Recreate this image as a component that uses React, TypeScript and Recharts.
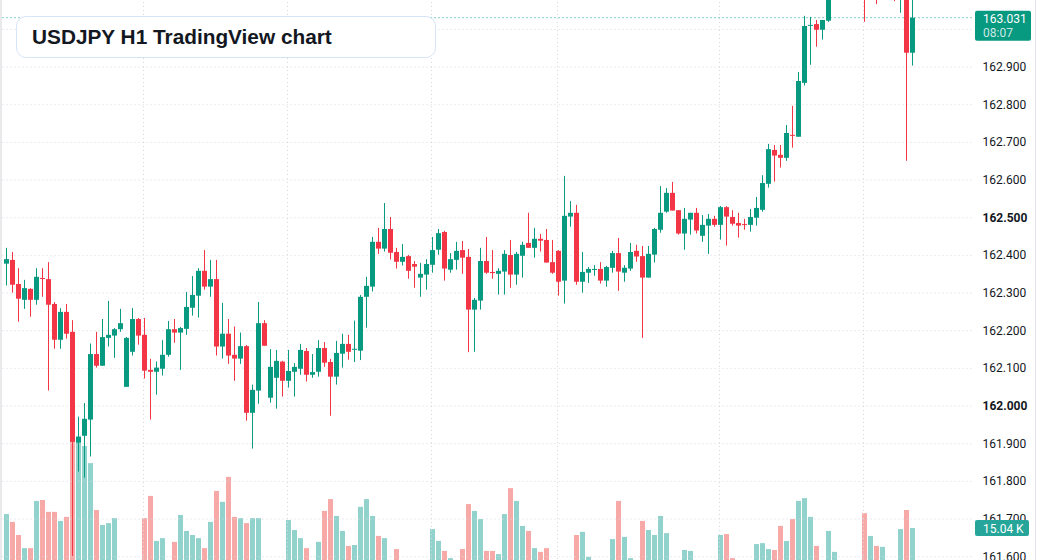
import React from "react";
import { Bar, ComposedChart, ReferenceLine, XAxis, YAxis } from "recharts";

// USDJPY H1 candles (last 152 bars)
const opens = [
  162.378, 162.388, 162.324, 162.282, 162.311, 162.282, 162.340, 162.337, 162.271, 162.176,
  162.250, 162.197, 161.903, 161.921, 161.964, 162.138, 162.107, 162.181, 162.187, 162.204,
  162.051, 162.144, 162.231, 162.189, 162.096, 162.091, 162.099, 162.136, 162.204, 162.195,
  162.205, 162.261, 162.293, 162.359, 162.317, 162.337, 162.158, 162.192, 162.136, 162.126,
  162.159, 161.982, 162.041, 162.220, 162.022, 162.075, 162.118, 162.067, 162.091, 162.099,
  162.146, 162.083, 162.091, 162.154, 162.117, 162.078, 162.139, 162.165, 162.150, 162.147,
  162.290, 162.317, 162.436, 162.418, 162.470, 162.409, 162.383, 162.398, 162.377, 162.341,
  162.349, 162.375, 162.415, 162.462, 162.362, 162.388, 162.414, 162.396, 162.256, 162.280,
  162.385, 162.356, 162.351, 162.357, 162.401, 162.349, 162.399, 162.433, 162.420, 162.444,
  162.441, 162.382, 162.412, 162.333, 162.503, 162.513, 162.330, 162.354, 162.362, 162.364,
  162.333, 162.367, 162.406, 162.354, 162.365, 162.412, 162.398, 162.341, 162.402, 162.468,
  162.516, 162.566, 162.520, 162.458, 162.495, 162.513, 162.452, 162.479, 162.497, 162.481,
  162.528, 162.502, 162.486, 162.483, 162.481, 162.500, 162.521, 162.590, 162.680, 162.667,
  162.659, 162.720, 162.715, 162.858, 163.010, 163.014, 162.999, 163.023, 163.091, 163.120,
  163.145, 163.125, 163.160, 163.140, 163.095, 163.125, 163.100, 163.130, 163.140, 163.105,
  163.130, 162.938,
];
const highs = [
  162.420, 162.409, 162.366, 162.335, 162.313, 162.366, 162.366, 162.382, 162.276, 162.260,
  162.271, 162.228, 161.972, 162.008, 162.166, 162.197, 162.231, 162.279, 162.207, 162.258,
  162.183, 162.260, 162.234, 162.234, 162.125, 162.118, 162.175, 162.226, 162.231, 162.210,
  162.303, 162.345, 162.366, 162.414, 162.388, 162.388, 162.274, 162.231, 162.211, 162.195,
  162.162, 162.057, 162.276, 162.228, 162.151, 162.149, 162.120, 162.149, 162.114, 162.165,
  162.154, 162.138, 162.175, 162.170, 162.125, 162.173, 162.192, 162.189, 162.227, 162.295,
  162.343, 162.449, 162.473, 162.539, 162.502, 162.420, 162.430, 162.401, 162.385, 162.380,
  162.390, 162.449, 162.470, 162.465, 162.406, 162.436, 162.438, 162.417, 162.287, 162.420,
  162.449, 162.414, 162.366, 162.414, 162.441, 162.409, 162.436, 162.513, 162.473, 162.457,
  162.470, 162.441, 162.414, 162.611, 162.544, 162.534, 162.409, 162.369, 162.374, 162.382,
  162.372, 162.412, 162.446, 162.374, 162.433, 162.428, 162.425, 162.425, 162.473, 162.584,
  162.579, 162.595, 162.520, 162.526, 162.513, 162.526, 162.507, 162.510, 162.505, 162.531,
  162.531, 162.520, 162.513, 162.497, 162.523, 162.555, 162.613, 162.696, 162.693, 162.693,
  162.746, 162.797, 162.887, 163.036, 163.033, 163.025, 163.025, 163.100, 163.135, 163.160,
  163.170, 163.175, 163.180, 163.155, 163.140, 163.150, 163.145, 163.150, 163.160, 163.150,
  163.150, 163.090,
];
const lows = [
  162.320, 162.301, 162.224, 162.258, 162.237, 162.269, 162.290, 162.041, 162.152, 162.152,
  162.179, 161.602, 161.826, 161.810, 161.866, 162.102, 162.107, 162.158, 162.128, 162.197,
  162.051, 162.134, 162.163, 162.073, 161.964, 162.030, 162.081, 162.131, 162.168, 162.096,
  162.189, 162.240, 162.235, 162.309, 162.290, 162.134, 162.126, 162.112, 162.067, 162.112,
  161.961, 161.887, 162.006, 162.160, 162.009, 161.993, 162.025, 162.049, 162.025, 162.083,
  162.065, 162.075, 162.078, 162.104, 161.974, 162.057, 162.102, 162.123, 162.117, 162.122,
  162.208, 162.304, 162.404, 162.410, 162.389, 162.365, 162.373, 162.338, 162.314, 162.290,
  162.309, 162.354, 162.402, 162.333, 162.354, 162.362, 162.351, 162.143, 162.144, 162.256,
  162.351, 162.338, 162.296, 162.296, 162.314, 162.322, 162.341, 162.420, 162.394, 162.410,
  162.381, 162.351, 162.293, 162.272, 162.476, 162.322, 162.301, 162.327, 162.346, 162.325,
  162.317, 162.354, 162.306, 162.330, 162.359, 162.383, 162.181, 162.341, 162.381, 162.460,
  162.513, 162.519, 162.455, 162.415, 162.455, 162.458, 162.436, 162.404, 162.476, 162.442,
  162.426, 162.479, 162.447, 162.468, 162.463, 162.479, 162.516, 162.580, 162.596, 162.633,
  162.651, 162.686, 162.715, 162.851, 162.906, 162.954, 162.973, 163.020, 163.080, 163.105,
  163.110, 163.115, 163.130, 163.020, 163.085, 163.067, 163.090, 163.095, 163.075, 163.044,
  162.651, 162.904,
];
const closes = [
  162.390, 162.322, 162.285, 162.313, 162.282, 162.343, 162.338, 162.269, 162.176, 162.250,
  162.192, 161.905, 161.919, 161.966, 162.138, 162.107, 162.183, 162.189, 162.204, 162.220,
  162.181, 162.231, 162.187, 162.094, 162.091, 162.102, 162.136, 162.204, 162.195, 162.207,
  162.263, 162.295, 162.359, 162.317, 162.337, 162.158, 162.192, 162.134, 162.126, 162.159,
  161.982, 162.043, 162.220, 162.160, 162.104, 162.120, 162.067, 162.093, 162.104, 162.149,
  162.083, 162.090, 162.154, 162.115, 162.078, 162.141, 162.165, 162.144, 162.152, 162.290,
  162.319, 162.436, 162.418, 162.470, 162.407, 162.383, 162.396, 162.359, 162.370, 162.351,
  162.377, 162.414, 162.459, 162.365, 162.390, 162.412, 162.394, 162.256, 162.282, 162.385,
  162.354, 162.353, 162.359, 162.404, 162.349, 162.404, 162.428, 162.420, 162.444, 162.439,
  162.381, 162.354, 162.330, 162.505, 162.513, 162.330, 162.356, 162.364, 162.364, 162.333,
  162.369, 162.406, 162.357, 162.367, 162.409, 162.397, 162.341, 162.404, 162.470, 162.513,
  162.566, 162.519, 162.458, 162.497, 162.513, 162.466, 162.481, 162.497, 162.481, 162.528,
  162.503, 162.484, 162.479, 162.481, 162.502, 162.526, 162.592, 162.682, 162.665, 162.659,
  162.725, 162.718, 162.863, 163.009, 163.012, 162.999, 163.025, 163.091, 163.120, 163.145,
  163.125, 163.160, 163.140, 163.095, 163.125, 163.100, 163.130, 163.140, 163.105, 163.130,
  162.938, 163.031,
];
// volume in thousands
const volumes = [
  19.5, 17.0, 12.8, 8.6, 8.6, 23.7, 24.0, 20.2, 20.2, 17.3,
  18.6, 45.8, 43.8, 41.3, 35.8, 20.8, 16.0, 16.6, 18.2, 3.5,
  4.2, 3.8, 2.9, 18.2, 25.3, 10.9, 11.8, 3.6, 10.6, 19.2,
  14.1, 12.8, 11.8, 8.6, 17.0, 26.9, 23.4, 31.4, 18.6, 18.2,
  16.6, 18.2, 18.2, 4.1, 3.2, 4.4, 2.7, 17.6, 14.4, 11.8,
  8.6, 3.9, 10.6, 20.5, 24.3, 18.9, 14.1, 9.3, 9.6, 21.8,
  24.3, 18.9, 12.5, 11.8, 4.3, 8.3, 3.1, 4.0, 2.6, 3.7,
  4.5, 14.7, 10.9, 7.7, 5.4, 3.3, 8.3, 22.7, 20.5, 17.9,
  7.7, 7.7, 6.7, 19.5, 27.8, 23.7, 15.7, 14.1, 8.6, 7.4,
  8.6, 3.9, 4.6, 3.4, 2.8, 12.8, 13.8, 5.8, 3.0, 4.1,
  3.5, 11.5, 23.7, 12.2, 5.4, 3.8, 17.3, 14.4, 12.8, 18.9,
  13.4, 4.2, 3.6, 8.0, 7.7, 3.1, 4.4, 3.9, 2.8, 12.8,
  13.1, 5.4, 4.0, 2.5, 4.3, 9.9, 10.2, 8.3, 8.0, 15.7,
  10.9, 17.9, 23.7, 24.6, 18.6, 9.3, 4.5, 14.1, 7.4, 3.7,
  4.2, 3.2, 4.6, 19.8, 12.5, 9.3, 9.0, 3.4, 4.0, 14.7,
  20.8, 15.04,
];

const priceTicks = [161.6, 161.7, 161.8, 161.9, 162.0, 162.1, 162.2, 162.3, 162.4, 162.5, 162.6, 162.7, 162.8, 162.9];
const gridPrices = [...priceTicks, 163.0];
const boldTicks = [162.0, 162.5];
const timeGridBars = [23, 47, 71, 92, 119, 143];
const countdown = "08:07";
const rightPadBars = 10;

const UP = "#089981";
const DOWN = "#f23645";
const UP_VOL = "rgba(38,166,154,0.5)";
const DOWN_VOL = "rgba(239,83,80,0.5)";
const GRID = "#d4d7de";
const AXIS_FONT = "Roboto, 'Liberation Sans', Arial, sans-serif";

const W = 1037;
const H = 560;
const CH = 575; // chart taller than the frame so the volume base sits below the crop
const PRICE_DOMAIN: [number, number] = [161.5514, 163.078];
const VOL_DOMAIN: [number, number] = [0, 184];

const rows = Array.from({ length: opens.length + rightPadBars }, (_, i) =>
  i < opens.length
    ? { i, o: opens[i], h: highs[i], l: lows[i], c: closes[i], v: volumes[i] }
    : { i, o: null, h: null, l: null, c: null, v: null }
);

const snap = (x: number, width: number) => Math.round(x + width / 2 - 0.5) + 0.5;

function Candle(props: any) {
  const { x, y, width, height, payload } = props;
  if (!payload || payload.o == null || y == null) return null;
  const top = Math.min(y, y + height);
  const bot = Math.max(y, y + height);
  const k = (bot - top) / (payload.h - payload.l || 1);
  const yo = top + (payload.h - payload.o) * k;
  const yc = top + (payload.h - payload.c) * k;
  const col = payload.c >= payload.o ? UP : DOWN;
  const cx = snap(x, width);
  return (
    <g>
      <line x1={cx} x2={cx} y1={top} y2={bot} stroke={col} strokeWidth={1} />
      <rect x={cx - 2.5} y={Math.min(yo, yc)} width={5} height={Math.max(1, Math.abs(yo - yc))} fill={col} />
    </g>
  );
}

function VolBar(props: any) {
  const { x, y, width, height, payload } = props;
  if (!payload || payload.v == null || y == null) return null;
  const cx = snap(x, width);
  return (
    <rect
      x={cx - 2.5}
      y={Math.min(y, y + height)}
      width={5}
      height={Math.abs(height)}
      fill={payload.c >= payload.o ? UP_VOL : DOWN_VOL}
    />
  );
}

function PriceTick(props: any) {
  const { x, y, payload } = props;
  const v = payload.value as number;
  return (
    <text
      x={x}
      y={y}
      dy={4}
      textAnchor="start"
      fontSize={12}
      fontFamily={AXIS_FONT}
      fontWeight={boldTicks.includes(v) ? 700 : 400}
      fill="#131722"
    >
      {v.toFixed(3)}
    </text>
  );
}

function PriceTag(props: any) {
  const { x, y, width } = props.viewBox;
  const left = x + width + 0.5;
  const last = closes[closes.length - 1];
  return (
    <g fontFamily={AXIS_FONT} fontSize={12}>
      <rect x={left} y={y - 7} width={56} height={30} rx={2} fill={UP} />
      <text x={left + 8} y={y + 5} fill="#fff">{last.toFixed(3)}</text>
      <text x={left + 8} y={y + 19} fill="#fff" fillOpacity={0.8}>{countdown}</text>
    </g>
  );
}

function VolTag(props: any) {
  const { x, y, width } = props.viewBox;
  const left = x + width + 0.5;
  const last = volumes[volumes.length - 1];
  return (
    <g fontFamily={AXIS_FONT} fontSize={12}>
      <rect x={left} y={y - 8} width={54} height={16} rx={2} fill="#26a69a" />
      <text x={left + 8} y={y + 4.5} fill="#fff">{`${last.toFixed(2)} K`}</text>
    </g>
  );
}

const layer: React.CSSProperties = { position: "absolute", left: 0, top: 0 };
const marginBg = { top: 0, right: 62.5, bottom: 0, left: 2.5 };

export default function App() {
  const lastClose = closes[closes.length - 1];
  const lastVol = volumes[volumes.length - 1];
  return (
    <div style={{ position: "absolute", left: 0, top: 0, width: W, height: H, overflow: "hidden", background: "#fff" }}>
      {/* grid, price line and volume */}
      <div style={layer}>
        <ComposedChart width={W} height={CH} data={rows} margin={marginBg}>
          <XAxis dataKey="i" type="category" hide />
          <YAxis yAxisId="p" domain={PRICE_DOMAIN} allowDataOverflow hide />
          <YAxis yAxisId="vol" domain={VOL_DOMAIN} allowDataOverflow hide />
          {gridPrices.map((p) => (
            <ReferenceLine key={p} yAxisId="p" y={p} stroke={GRID} strokeDasharray="1 3" />
          ))}
          {timeGridBars.map((b) => (
            <ReferenceLine key={b} yAxisId="p" x={b} stroke={GRID} strokeDasharray="1 3" />
          ))}
          <ReferenceLine yAxisId="p" y={lastClose} stroke={UP} strokeDasharray="1 3" />
          <Bar yAxisId="vol" dataKey="v" barSize={5} shape={<VolBar />} isAnimationActive={false} />
        </ComposedChart>
      </div>
      {/* candles and price scale */}
      <div style={layer}>
        <ComposedChart width={W} height={CH} data={rows} margin={{ top: 0, right: 0, bottom: 0, left: 2.5 }}>
          <XAxis dataKey="i" type="category" hide />
          <YAxis
            orientation="right"
            width={62.5}
            domain={PRICE_DOMAIN}
            allowDataOverflow
            ticks={priceTicks}
            interval={0}
            tick={<PriceTick />}
            axisLine={false}
            tickLine={false}
          />
          <Bar
            dataKey={(d: any) => (d.o == null ? null : [d.l, d.h])}
            barSize={5}
            shape={<Candle />}
            isAnimationActive={false}
          />
        </ComposedChart>
      </div>
      {/* last price / last volume tags */}
      <div style={layer}>
        <ComposedChart width={W} height={CH} data={rows} margin={marginBg}>
          <XAxis dataKey="i" type="category" hide />
          <YAxis yAxisId="p" domain={PRICE_DOMAIN} allowDataOverflow hide />
          <YAxis yAxisId="vol" domain={VOL_DOMAIN} allowDataOverflow hide />
          <ReferenceLine yAxisId="vol" y={lastVol} stroke="none" label={<VolTag />} />
          <ReferenceLine yAxisId="p" y={lastClose} stroke="none" label={<PriceTag />} />
        </ComposedChart>
      </div>
      <div style={{ position: "absolute", left: 0, top: 0, width: 2, height: H, background: "#e9e9ec" }} />
      <div style={{ position: "absolute", left: 1035, top: 0, width: 1, height: H, background: "#e0e3eb" }} />
      <div
        style={{
          position: "absolute",
          left: 16,
          top: 16,
          width: 403,
          height: 40,
          border: "1px solid #d6e4f7",
          borderRadius: 10,
          background: "#fff",
          display: "flex",
          alignItems: "center",
          paddingLeft: 15,
          boxSizing: "content-box",
          fontFamily: "'Liberation Sans', Arial, Helvetica, sans-serif",
          fontWeight: 700,
          fontSize: 20.8,
          color: "#131722",
          whiteSpace: "nowrap",
        }}
      >
        USDJPY H1 TradingView chart
      </div>
    </div>
  );
}
